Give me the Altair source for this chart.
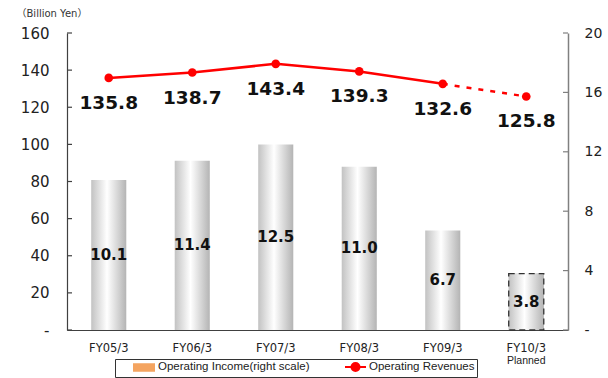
import altair as alt
import pandas as pd

categories = ["FY05/3", "FY06/3", "FY07/3", "FY08/3", "FY09/3", "FY10/3"]
operating_revenues = [135.8, 138.7, 143.4, 139.3, 132.6, 125.8]
operating_income = [10.1, 11.4, 12.5, 11.0, 6.7, 3.8]
left_ticks = [0, 20, 40, 60, 80, 100, 120, 140, 160]
right_ticks = [0, 4, 8, 12, 16, 20]
planned_category = "FY10/3"
planned_note = "Planned"
INC = "Operating Income(right scale)"
REV = "Operating Revenues"

df = pd.DataFrame({"cat": categories, "rev": operating_revenues,
                   "inc": operating_income, "series": REV})

W, H = 501, 297
FONT = "DejaVu Sans"
LFONT = "Liberation Sans"

xscale = alt.Scale(domain=categories, paddingInner=0.58, paddingOuter=0.29)
xaxis = alt.Axis(title=None, labelAngle=0, labelFont=FONT, labelFontSize=11.5,
                 labelColor="#222", labelPadding=12, tickSize=0,
                 domainColor="#404040", domainWidth=1.2)
xenc = alt.X("cat:N", sort=categories, scale=xscale, axis=xaxis)

# ---------- right scale (operating income bars) ----------
rscale = alt.Scale(domain=[0, 20], nice=False, zero=True)
raxis = alt.Axis(orient="right", values=right_ticks, title=None, grid=False,
                 labelExpr="datum.value == 0 ? '-' : datum.label",
                 labelFont=FONT, labelFontSize=14, labelColor="#222",
                 labelPadding=16, tickSize=0, domainColor="#808080",
                 domainWidth=1.5, labelFlush=False, labelOverlap=False)

bar_fill = alt.Gradient(
    gradient="linear",
    stops=[alt.GradientStop(color="#c2c2c2", offset=0),
           alt.GradientStop(color="#ffffff", offset=0.45),
           alt.GradientStop(color="#b4b4b4", offset=1)],
    x1=0, x2=1, y1=0, y2=0)

bars = alt.Chart(df).mark_bar(fill=bar_fill).encode(
    x=xenc, y=alt.Y("inc:Q", scale=rscale, axis=raxis))

planned_bar = alt.Chart(df).transform_filter(
    alt.datum.cat == planned_category
).mark_bar(fill=bar_fill, stroke="#333333", strokeDash=[6, 4], strokeWidth=1.3).encode(
    x=xenc, y=alt.Y("inc:Q", scale=rscale, axis=raxis))

bar_text = alt.Chart(df).transform_calculate(mid="datum.inc / 2").mark_text(
    font=FONT, fontSize=15, fontWeight="bold", color="#111", baseline="middle"
).encode(x=xenc, y=alt.Y("mid:Q", scale=rscale, axis=raxis),
         text=alt.Text("inc:Q", format=".1f"))

rticks = alt.Chart(pd.DataFrame({"v": right_ticks})).mark_rule(
    color="#808080", strokeWidth=1.2
).encode(y=alt.Y("v:Q", scale=rscale, axis=raxis),
         x=alt.value(W - 5), x2=alt.value(W))

bars_layer = alt.layer(bars, planned_bar, bar_text, rticks)

# ---------- left scale (operating revenues line) ----------
lscale = alt.Scale(domain=[0, 160], nice=False, zero=True)
laxis = alt.Axis(orient="left", values=left_ticks, grid=False,
                 labelExpr="datum.value == 0 ? '-' : datum.label",
                 labelFont=FONT, labelFontSize=15, labelColor="#222",
                 labelPadding=18, tickSize=0, domainColor="#404040",
                 domainWidth=1.2, labelFlush=False, labelOverlap=False,
                 title="（Billion Yen）", titleAngle=0, titleAlign="left",
                 titleBaseline="middle", titleX=-51, titleY=-20,
                 titleFont="DejaVu Sans, Noto Sans CJK JP", titleFontSize=10,
                 titleFontWeight="normal", titleColor="#333")

# legend symbols (unit = 5 px with symbolSize 100)
line_symbol = "M-1,0L3.2,0M0.3,0A0.8,0.8,0,1,1,1.9,0A0.8,0.8,0,1,1,0.3,0Z"
box_symbol = "M-1,-0.65H3V0.65H-1Z"
is_rev = "datum.value === '" + REV + "'"
nbsp = "\u00a0" * 4

color_enc = alt.Color(
    "series:N",
    scale=alt.Scale(domain=[INC, REV], range=["#f4a460", "#ff0000"]),
    legend=alt.Legend(
        title=None, orient="none", legendX=48, legendY=326,
        direction="horizontal", columns=2, columnPadding=18, padding=2,
        strokeColor="#333333", fillColor="#ffffff",
        labelFont=LFONT, labelFontSize=11.5, labelColor="#222",
        labelLimit=300, labelOffset=13, symbolOffset=16,
        symbolSize=100, symbolOpacity=1, symbolStrokeWidth=2,
        labelExpr=is_rev + " ? datum.label + '" + nbsp + "' : datum.label",
        symbolType=alt.ExprRef(expr=is_rev + " ? '" + line_symbol + "' : '" + box_symbol + "'"),
        symbolFillColor=alt.ExprRef(expr=is_rev + " ? '#ff0000' : '#f5a865'"),
        symbolStrokeColor=alt.ExprRef(expr=is_rev + " ? '#ff0000' : 'transparent'"),
    ))

first_five = categories[:5]
last_two = categories[4:]

line_solid = alt.Chart(df).transform_filter(
    alt.FieldOneOfPredicate(field="cat", oneOf=first_five)
).mark_line(strokeWidth=2.5).encode(
    x=xenc, y=alt.Y("rev:Q", scale=lscale, axis=laxis), color=color_enc)

line_dash = alt.Chart(df).transform_filter(
    alt.FieldOneOfPredicate(field="cat", oneOf=last_two)
).mark_line(strokeWidth=2.5, strokeDash=[5, 7]).encode(
    x=xenc, y=alt.Y("rev:Q", scale=lscale, axis=laxis), color=color_enc)

points = alt.Chart(df).mark_point(filled=True, size=75, opacity=1).encode(
    x=xenc, y=alt.Y("rev:Q", scale=lscale, axis=laxis), color=color_enc)

rev_text = alt.Chart(df).mark_text(
    font=FONT, fontSize=18.5, fontWeight="bold", color="#111",
    baseline="middle", dy=25
).encode(x=xenc, y=alt.Y("rev:Q", scale=lscale, axis=laxis),
         text=alt.Text("rev:Q", format=".1f"))

lticks = alt.Chart(pd.DataFrame({"v": left_ticks})).mark_rule(
    color="#404040", strokeWidth=1.2
).encode(y=alt.Y("v:Q", scale=lscale, axis=laxis),
         x=alt.value(0), x2=alt.value(5))

planned_text = alt.Chart(pd.DataFrame({"cat": [planned_category], "note": [planned_note]})).mark_text(
    font=LFONT, fontSize=10.5, color="#222", baseline="middle"
).encode(x=xenc, y=alt.value(H + 31), text="note:N")

line_layer = alt.layer(lticks, line_solid, line_dash, points, rev_text, planned_text)

chart = alt.layer(bars_layer, line_layer).resolve_scale(
    y="independent"
).properties(
    width=W, height=H,
    padding={"left": 67, "top": 33, "right": 40, "bottom": 48},
    autosize=alt.AutoSizeParams(type="none"),
).configure_view(stroke=None)

chart.save("out.html", embed_options={"renderer": "svg", "actions": False})
